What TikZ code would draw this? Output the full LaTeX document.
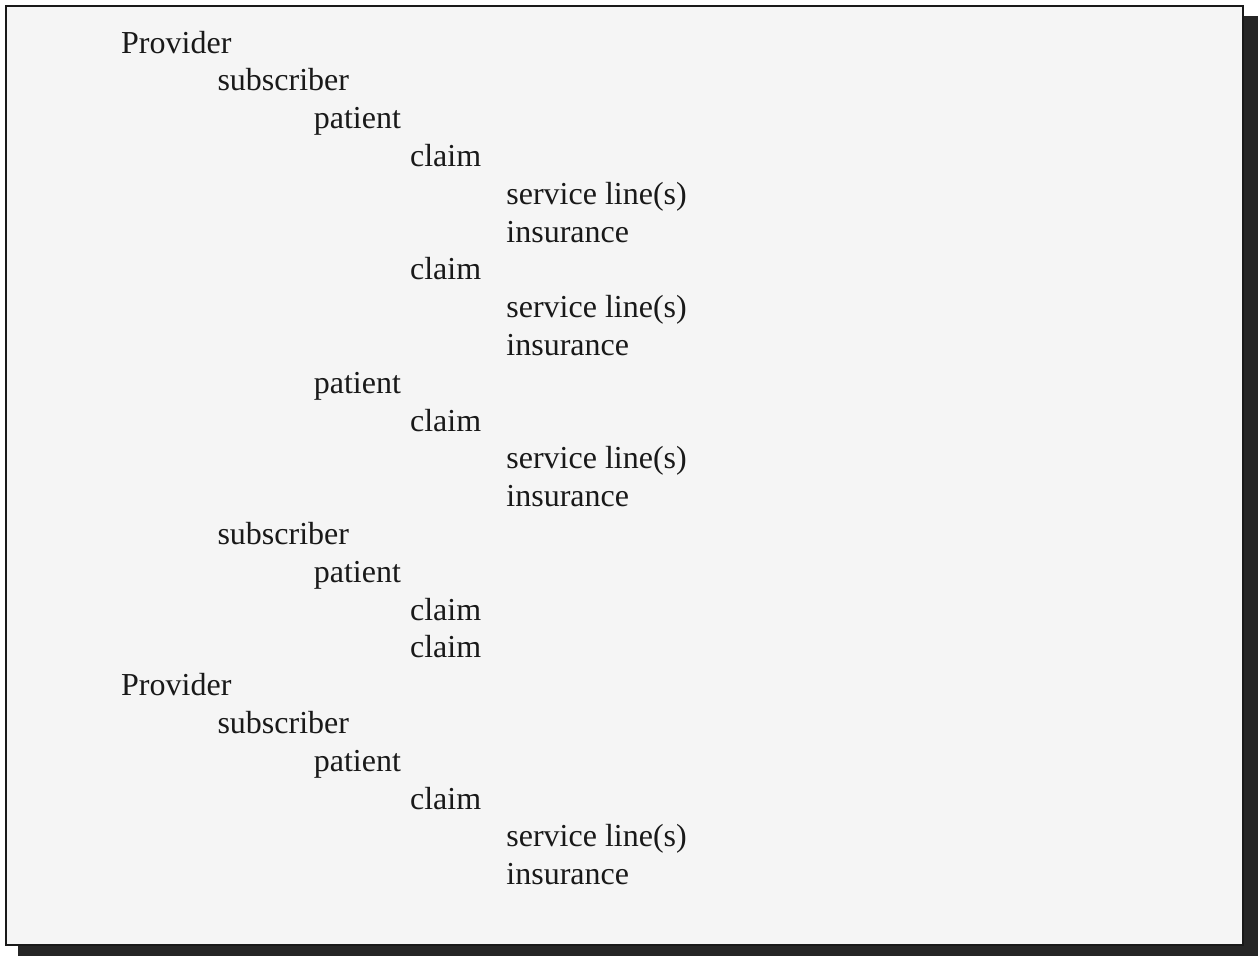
\documentclass[tikz,border=0pt]{standalone}
\usepackage{fontspec}
\setmainfont{Liberation Serif}
\begin{document}
\begin{tikzpicture}[x=1pt,y=-1pt,
  item/.style={anchor=base west,inner sep=0pt,font=\fontsize{32}{38}\selectfont,text=black!90},
  frame/.style={draw=black!90,line width=2pt,fill=black!4}]
\useasboundingbox (0,0) rectangle (1260,956);
\fill[black!85] (18,16) rectangle (1258,956);
\draw[frame] (6,6) rectangle (1243,945);
\def\lx#1{121+96.3*#1}
\def\ly#1{53+37.8*#1}
\foreach \lev/\k/\t/\n in {
 0/0/Provider/p1, 1/1/subscriber/s1, 2/2/patient/pa1, 3/3/claim/c1,
 4/4/service line(s)/sl1, 4/5/insurance/i1, 3/6/claim/c2,
 4/7/service line(s)/sl2, 4/8/insurance/i2, 2/9/patient/pa2, 3/10/claim/c3,
 4/11/service line(s)/sl3, 4/12/insurance/i3, 1/13/subscriber/s2,
 2/14/patient/pa3, 3/15/claim/c4, 3/16/claim/c5, 0/17/Provider/p2,
 1/18/subscriber/s3, 2/19/patient/pa4, 3/20/claim/c6,
 4/21/service line(s)/sl4, 4/22/insurance/i4}
 \node[item] (\n) at ({121+96.3*\lev},{53+37.8*\k}) {\t};
\end{tikzpicture}
\end{document}
